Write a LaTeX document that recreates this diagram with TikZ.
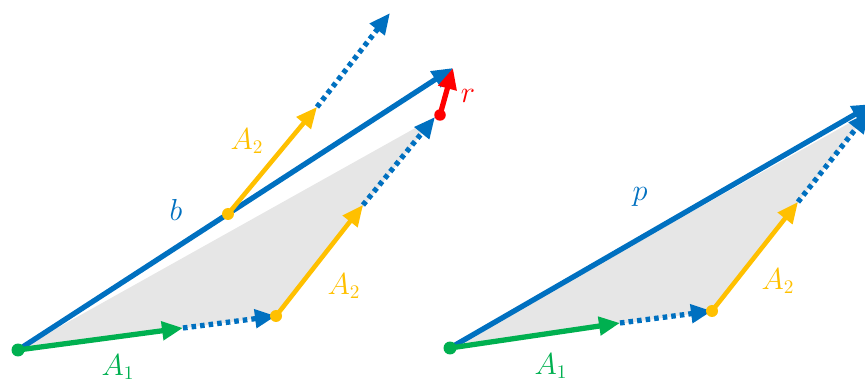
\documentclass[tikz,border=0pt]{standalone}
\usepackage{amsmath}
\usepackage{tikz}
\usetikzlibrary{arrows.meta,positioning}
\definecolor{vblue}{HTML}{0070C0}
\definecolor{vgreen}{HTML}{00B050}
\definecolor{vgold}{HTML}{FFC000}
\definecolor{vred}{HTML}{FF0000}
\definecolor{vshade}{HTML}{E6E6E6}
\tikzset{
  vec/.style      = {line width=3pt, line cap=butt,
                     -{Triangle[length=4.2mm,width=3.6mm]}},
  bvec/.style     = {vec, draw=vblue},
  gvec/.style     = {vec, draw=vgreen},
  yvec/.style     = {vec, draw=vgold, line width=2.6pt},
  rvec/.style     = {vec, draw=vred},
  dotvec/.style   = {vec, draw=vblue, dash pattern=on 2.6pt off 2.3pt},
  %
  gdot/.style     = {circle, fill=vgreen, minimum size=2.6mm, inner sep=0pt},
  ydot/.style     = {circle, fill=vgold,  minimum size=2.4mm, inner sep=0pt},
  rdot/.style     = {circle, fill=vred,   minimum size=2.3mm, inner sep=0pt},
  %
  lbl/.style      = {font=\fontsize{16}{18}\selectfont, inner sep=0pt},
  area/.style     = {fill=vshade},
}

\begin{document}
\begin{tikzpicture}[x=0.02cm, y=-0.02cm]
  \useasboundingbox (0,0) rectangle (865,381);

  % ---------- left: least squares with residual ------------------------
  \coordinate (o1) at (18,350);
  \coordinate (g1) at (183,328);
  \coordinate (c1) at (276,316);
  \coordinate (y1) at (363,205);
  \coordinate (t1) at (435,117);
  \coordinate (b1) at (453,68);
  \coordinate (m1) at (228,214);
  \coordinate (u1) at (317,107);
  \coordinate (w1) at (390,13);

  \fill[area] (o1) -- (c1) -- (t1) -- cycle;

  \draw[bvec] (o1) -- (b1);
  \draw[dotvec] (g1) -- (c1);
  \draw[dotvec] (y1) -- (t1);
  \draw[dotvec] (u1) -- (w1);
  \draw[gvec] (o1) -- (g1);
  \draw[yvec] (c1) -- (y1);
  \draw[yvec] (m1) -- (u1);

  \node[rdot] (r0) at (440,115) {};
  \draw[rvec] (r0.center) -- (b1);

  \node[gdot] (d1) at (o1) {};
  \node[ydot] (d2) at (c1) {};
  \node[ydot] (d3) at (m1) {};

  \node[lbl, text=vblue]  (lb)  at (176,210) {$b$};
  \node[lbl, text=vgold]  (la2) at (247,141) {$A_2$};
  \node[lbl, text=vgold]  (lb2) at (344,286) {$A_2$};
  \node[lbl, text=vgreen] (la1) at (118,367) {$A_1$};
  \node[lbl, text=vred]   (lr)  at (468,96)  {$r$};

  % ---------- right: the projection p ----------------------------------
  \coordinate (o2) at (450,348);
  \coordinate (g2) at (620,323);
  \coordinate (c2) at (712,311);
  \coordinate (y2) at (798,202);
  \coordinate (t2) at (869,112);
  \coordinate (p2) at (873,104);

  \fill[area] (o2) -- (c2) -- (t2) -- cycle;

  \draw[bvec] (o2) -- (p2);
  \draw[dotvec] (g2) -- (c2);
  \draw[dotvec] (y2) -- (t2);
  \draw[gvec] (o2) -- (g2);
  \draw[yvec] (c2) -- (y2);

  \node[gdot] (d4) at (o2) {};
  \node[ydot] (d5) at (c2) {};

  \node[lbl, text=vblue]  (lp)  at (640,197) {$p$};
  \node[lbl, text=vgold]  (lc2) at (778,281) {$A_2$};
  \node[lbl, text=vgreen] (lc1) at (551,366) {$A_1$};

\end{tikzpicture}
\end{document}
